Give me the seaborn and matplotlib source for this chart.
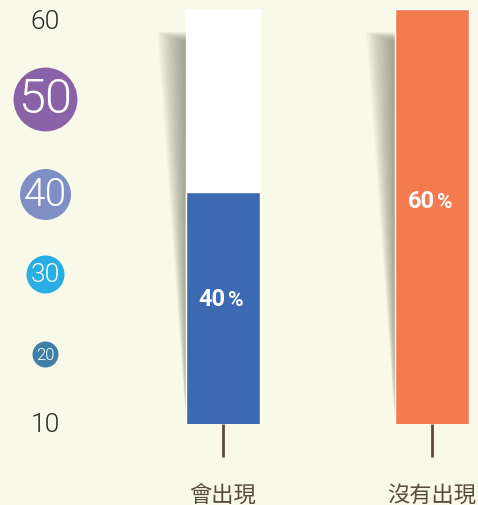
import numpy as np
import pandas as pd
import matplotlib
matplotlib.use("Agg")
import matplotlib.pyplot as plt
import seaborn as sns

# 資料
categories = ["會出現", "沒有出現"]
share_pct = [40, 60]          # 標示的百分比
bar_top = [38, 60]            # 圖上色塊的高度 (依刻度讀取)
frame_top = [60, 0]           # 白色底框
scale_labels = ["60", "50", "40", "30", "20", "10"]

# 版面設定
bg = "#f8f9e8"
bar_colors = ["#3d69b0", "#f47a50"]
scale_pos = [58.6, 49.2, 37.7, 28.1, 18.4, 10.0]
scale_size = [19, 35, 28, 19, 12, 19]
bubble_color = [None, "#8a62a8", "#7f8fc6", "#29aee3", "#3f7fa8", None]
bubble_area = [0, 2116, 1347, 750, 350, 0]

sns.set_theme(style="white")
plt.rcParams["font.family"] = ["Noto Sans CJK TC", "DejaVu Sans"]

fig = plt.figure(figsize=(4.78, 5.06), dpi=100, facecolor=bg)
ax = fig.add_axes([0, 81 / 506, 1, 415 / 506])
ax.set_facecolor(bg)

df = pd.DataFrame({"cat": categories, "top": bar_top, "frame": frame_top})

# 陰影 (左側模糊)
bw = 0.35
for i in range(2):
    left = i - bw / 2
    for k in range(16):
        f = (k + 1) / 16
        ytop = 57.3 - 1.2 * (1 - f)
        ys = np.linspace(10.2, ytop, 60)
        w = (0.003 + (ys - 10) / 48 * 0.14) * f
        ax.fill_betweenx(ys, left - w, left, color="#6a6a5a", alpha=0.05,
                         lw=0, zorder=1)

sns.barplot(data=df, x="cat", y="frame", color="white", width=bw,
            saturation=1, ax=ax, zorder=2)
sns.barplot(data=df, x="cat", y="top", hue="cat", palette=bar_colors,
            width=bw, saturation=1, legend=False, ax=ax, zorder=3)

ax.set_ylim(10, 60)
ax.set_xlim(-223 / 209, 1 + 46 / 209)

# 下方短線
ax.vlines([0, 1], 6.0, 10, color="#5a4a3e", lw=2, clip_on=False, zorder=4)

# 百分比標籤
pct_y = [25.1, 36.9]
for i, p in enumerate(share_pct):
    ax.text(i + 0.012, pct_y[i], str(p), color="white", fontsize=17,
            fontweight="bold", ha="right", va="center",
            family=["Roboto", "DejaVu Sans"], zorder=5)
    ax.text(i + 0.022, pct_y[i] - 0.1, "%", color="white", fontsize=15,
            fontweight="bold", ha="left", va="center",
            family=["Roboto", "DejaVu Sans"], zorder=5)

# 左側刻度 (泡泡)
xs = -178 / 209
for lab, y, fs, c, s in zip(scale_labels, scale_pos, scale_size,
                            bubble_color, bubble_area):
    if c is not None:
        ax.scatter([xs], [y], s=s, color=c, lw=0, zorder=4, clip_on=False)
    ax.text(xs, y, lab, fontsize=fs, color="white" if c else "#262626",
            ha="center", va="center", family=["Roboto", "DejaVu Sans"],
            fontweight=300, zorder=5, clip_on=False)

ax.set_xlabel("")
ax.set_ylabel("")
ax.set_yticks([])
ax.set_xticks([0, 1])
ax.set_xticklabels(categories, fontsize=16, color="#5a4a3e")
ax.tick_params(axis="x", length=0, pad=42)
sns.despine(ax=ax, left=True, bottom=True)

fig.savefig("out.png", dpi=100, facecolor=bg)
